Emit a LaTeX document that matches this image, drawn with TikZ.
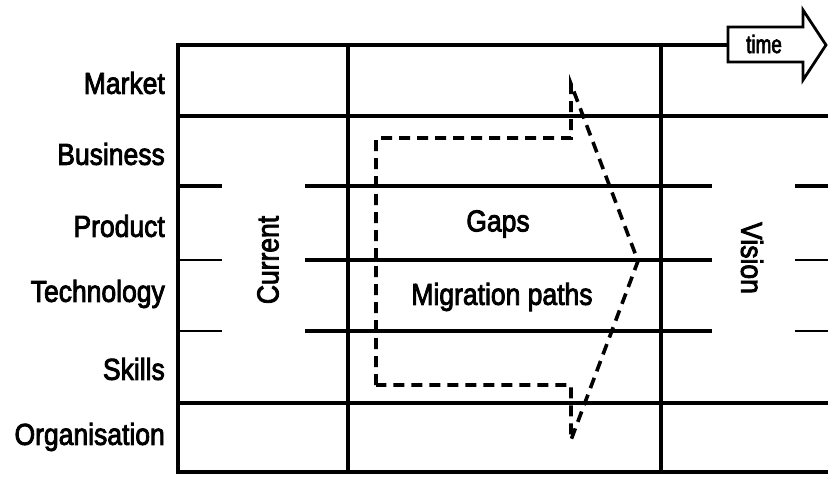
\documentclass[tikz,border=0pt]{standalone}
\usepackage{fontspec}
\setmainfont{Liberation Sans}
\newfontfamily\heavyfont{Liberation Sans}[FakeBold=3]
\usetikzlibrary{calc}
\newcommand\tallbox[1]{\scalebox{1}[1.14]{#1}}
\begin{document}
\begin{tikzpicture}[x=1pt,y=-1pt,
  gridline/.style={line width=3.4pt},
  thinline/.style={line width=2.2pt},
  migration/.style={line width=3.6pt,dash pattern=on 11pt off 7pt},
  rowlabel/.style={anchor=east,inner sep=0pt,font=\heavyfont\fontsize{26.5}{28}\selectfont},
  celltext/.style={inner sep=0pt,font=\heavyfont\fontsize{26.5}{28}\selectfont},
  timearrow/.style={line width=2.8pt,line join=miter}]
\useasboundingbox (0,0) rectangle (828,477);

% frame and columns
\draw[gridline] (728,45) -- (178,45) -- (178,472) -- (828,472);
\draw[gridline] (348,45) -- (348,472);
\draw[gridline] (661,45) -- (661,472);
\draw[gridline] (178,116) -- (828,116);
\draw[gridline] (178,403) -- (828,403);

% inner row dividers, interrupted behind the column titles
\draw[gridline] (178,186) -- (222,186) (305,186) -- (712,186) (795,186) -- (828,186);
\draw[thinline] (178,260) -- (222,260) (795,260) -- (828,260);
\draw[thinline] (178,331) -- (222,331) (795,331) -- (828,331);
\draw[gridline] (305,260) -- (712,260) (305,331) -- (712,331);

% time arrow
\draw[timearrow,fill=white] (728,27) -- (803,27) -- (803,10) -- (826,45)
  -- (803,80) -- (803,62) -- (728,62) -- cycle;
\node[inner sep=0pt,font=\heavyfont\fontsize{21}{22}\selectfont] (time) at (764,44) {\scalebox{0.9}[1.2]{time}};

% dashed migration arrow
\coordinate (bl) at (376,385);
\coordinate (tl) at (376,138);
\coordinate (tr) at (571,138);
\coordinate (tp) at (571,84);
\coordinate (tip) at (638,261);
\coordinate (bp) at (571,440);
\coordinate (br) at (571,385);
\draw[migration] (bl) -- (tl) -- (tr) -- (tp) -- (tip) -- (bp) -- (br) -- cycle;

% row labels
\node[rowlabel] (market) at (165,83) {\tallbox{Market}};
\node[rowlabel] (business) at (165,154) {\tallbox{Business}};
\node[rowlabel] (product) at (165,226) {\tallbox{Product}};
\node[rowlabel] (technology) at (165,294) {\tallbox{Technology}};
\node[rowlabel] (skills) at (165,369) {\tallbox{Skills}};
\node[rowlabel] (organisation) at (165,437) {\tallbox{Organisation}};

% column titles and cell texts
\node[celltext,rotate=90] (current) at (268,260) {\tallbox{Current}};
\node[celltext,rotate=-90] (vision) at (752,258) {\tallbox{Vision}};
\node[celltext] (gaps) at (498,224) {\tallbox{Gaps}};
\node[celltext] (paths) at (502,297) {\tallbox{Migration paths}};
\end{tikzpicture}
\end{document}
